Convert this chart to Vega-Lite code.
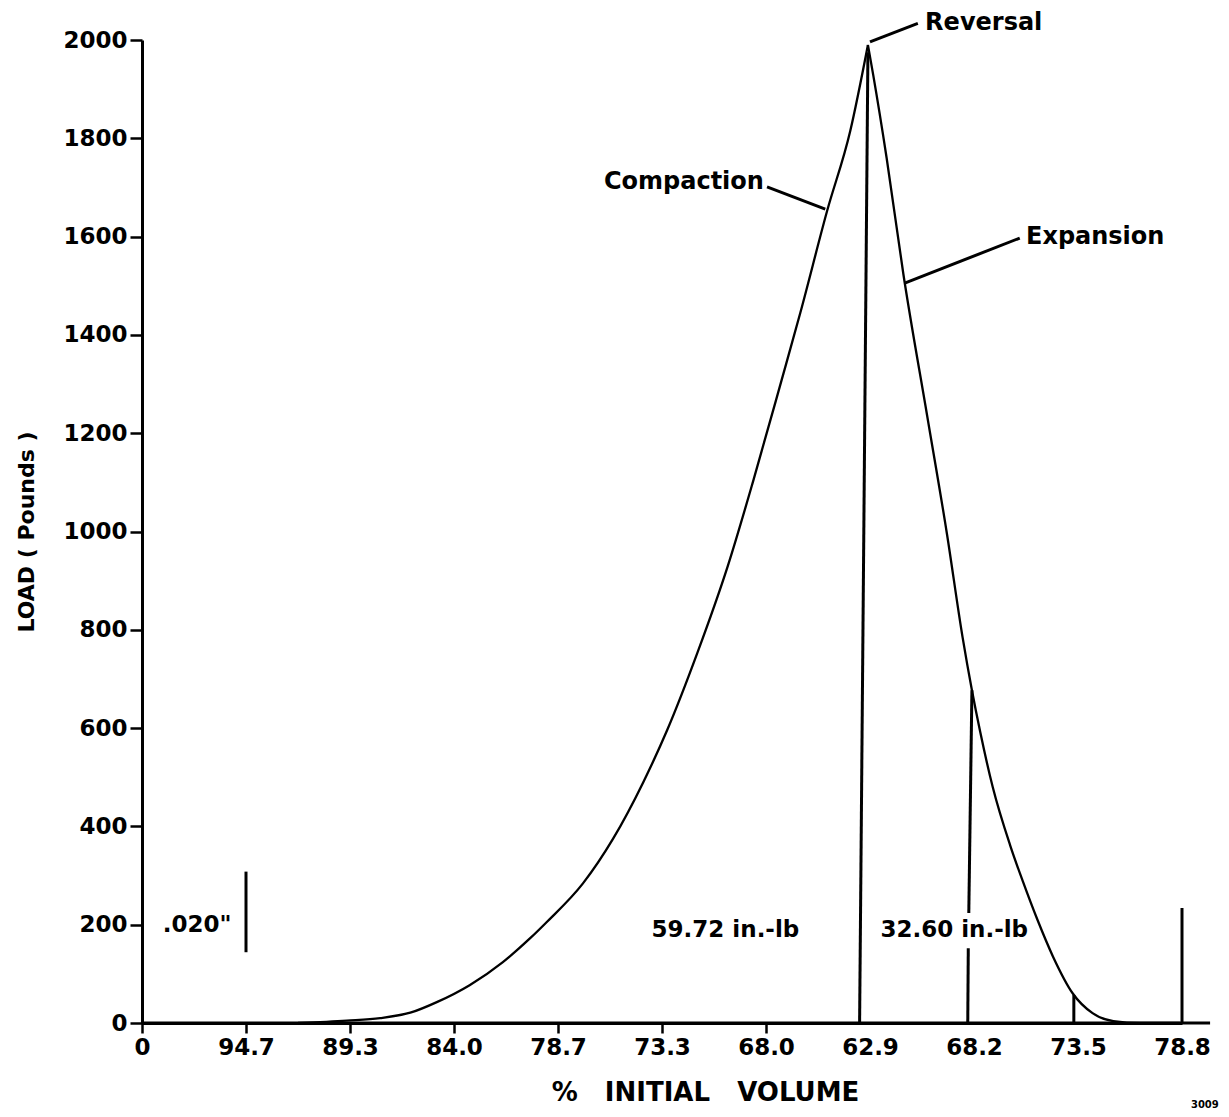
{
  "$schema": "https://vega.github.io/schema/vega-lite/v6.json",
  "width": 1040,
  "height": 983,
  "autosize": {"type": "none"},
  "padding": {"left": 142, "top": 40, "right": 47, "bottom": 94},
  "background": "white",
  "config": {"view": {"stroke": null}, "font": "DejaVu Sans"},
  "datasets": {
    "curve": [
      {"series": "Compaction", "x": 1.5, "load": 0},
      {"series": "Compaction", "x": 1.97, "load": 5},
      {"series": "Compaction", "x": 2.29, "load": 10},
      {"series": "Compaction", "x": 2.58, "load": 21},
      {"series": "Compaction", "x": 2.84, "load": 43},
      {"series": "Compaction", "x": 3.15, "load": 77},
      {"series": "Compaction", "x": 3.47, "load": 124},
      {"series": "Compaction", "x": 3.73, "load": 172},
      {"series": "Compaction", "x": 3.89, "load": 205},
      {"series": "Compaction", "x": 4.24, "load": 284},
      {"series": "Compaction", "x": 4.53, "load": 375},
      {"series": "Compaction", "x": 4.82, "load": 490},
      {"series": "Compaction", "x": 5.05, "load": 596},
      {"series": "Compaction", "x": 5.34, "load": 753},
      {"series": "Compaction", "x": 5.63, "load": 928},
      {"series": "Compaction", "x": 5.88, "load": 1105},
      {"series": "Compaction", "x": 6.15, "load": 1308},
      {"series": "Compaction", "x": 6.33, "load": 1445},
      {"series": "Compaction", "x": 6.59, "load": 1654},
      {"series": "Compaction", "x": 6.81, "load": 1815},
      {"series": "Compaction", "x": 6.98, "load": 1990},
      {"series": "Expansion", "x": 6.98, "load": 1990},
      {"series": "Expansion", "x": 7.03, "load": 1930},
      {"series": "Expansion", "x": 7.16, "load": 1760},
      {"series": "Expansion", "x": 7.32, "load": 1525},
      {"series": "Expansion", "x": 7.55, "load": 1235},
      {"series": "Expansion", "x": 7.74, "load": 995},
      {"series": "Expansion", "x": 7.89, "load": 785},
      {"series": "Expansion", "x": 7.98, "load": 677},
      {"series": "Expansion", "x": 8.06, "load": 592},
      {"series": "Expansion", "x": 8.18, "load": 480},
      {"series": "Expansion", "x": 8.35, "load": 360},
      {"series": "Expansion", "x": 8.47, "load": 288},
      {"series": "Expansion", "x": 8.61, "load": 210},
      {"series": "Expansion", "x": 8.76, "load": 135},
      {"series": "Expansion", "x": 8.95, "load": 60},
      {"series": "Expansion", "x": 9.14, "load": 20},
      {"series": "Expansion", "x": 9.34, "load": 4},
      {"series": "Expansion", "x": 9.6, "load": 0},
      {"series": "Expansion", "x": 9.98, "load": 0}
    ],
    "rules": [
      {"name": "baseline", "x": 0, "load": 0, "x2": 10.27, "load2": 0},
      {"name": "scale bar", "x": 1.0, "load": 144, "x2": 1.0, "load2": 308},
      {"name": "62.9", "x": 6.9, "load": 0, "x2": 6.98, "load2": 1975},
      {"name": "68.2 low", "x": 7.94, "load": 0, "x2": 7.945, "load2": 152},
      {"name": "68.2 high", "x": 7.95, "load": 224, "x2": 7.98, "load2": 677},
      {"name": "73.5", "x": 8.96, "load": 0, "x2": 8.96, "load2": 57},
      {"name": "78.8", "x": 10.0, "load": 0, "x2": 10.0, "load2": 234},
      {"name": "Reversal leader", "x": 7.0, "load": 1996, "x2": 7.46, "load2": 2034},
      {"name": "Compaction leader", "x": 6.01, "load": 1701, "x2": 6.57, "load2": 1656},
      {"name": "Expansion leader", "x": 7.34, "load": 1506, "x2": 8.44, "load2": 1597}
    ],
    "labels": [
      {"text": "Reversal", "x": 7.53, "load": 2034},
      {"text": "Expansion", "x": 8.5, "load": 1600},
      {"text": "Compaction", "x": 5.98, "load": 1712},
      {"text": "59.72 in.-lb", "x": 5.61, "load": 189},
      {"text": "32.60  in.-lb", "x": 7.81, "load": 189},
      {"text": ".020\"", "x": 0.53, "load": 200}
    ],
    "note": [
      {"text": "3009", "x": 10.22, "load": -167}
    ]
  },
  "encoding": {
    "x": {
      "field": "x",
      "type": "quantitative",
      "scale": {"domain": [0, 10], "nice": false, "zero": false},
      "axis": {
        "values": [0, 1, 2, 3, 4, 5, 6, 7, 8, 9, 10],
        "labelExpr": "['0','94.7','89.3','84.0','78.7','73.3','68.0','62.9','68.2','73.5','78.8'][round(datum.value)]",
        "title": "%\u00a0\u00a0\u00a0INITIAL\u00a0\u00a0\u00a0VOLUME",
        "titleFont": "DejaVu Sans",
        "titleFontSize": 26,
        "titleFontWeight": "bold",
        "titleColor": "black",
        "titlePadding": 20,
        "titleX": 563,
        "titleAlign": "center",
        "labelFont": "DejaVu Sans",
        "labelFontSize": 23,
        "labelFontWeight": "bold",
        "labelColor": "black",
        "labelPadding": 3,
        "labelFlush": false,
        "labelOverlap": false,
        "tickSize": 10,
        "tickWidth": 2.5,
        "tickColor": {"condition": {"test": "datum.value <= 6", "value": "black"}, "value": "transparent"},
        "domainColor": "black",
        "domainWidth": 3,
        "grid": false
      }
    },
    "y": {
      "field": "load",
      "type": "quantitative",
      "scale": {"domain": [0, 2000], "nice": false},
      "axis": {
        "values": [0, 200, 400, 600, 800, 1000, 1200, 1400, 1600, 1800, 2000],
        "format": "d",
        "title": "LOAD ( Pounds )",
        "titleFont": "DejaVu Sans",
        "titleFontSize": 22,
        "titleFontWeight": "bold",
        "titleColor": "black",
        "titlePadding": 24,
        "labelFont": "DejaVu Sans",
        "labelFontSize": 23,
        "labelFontWeight": "bold",
        "labelColor": "black",
        "labelPadding": 3,
        "labelFlush": false,
        "labelOverlap": false,
        "tickSize": 12,
        "tickWidth": 2.5,
        "tickColor": "black",
        "domainColor": "black",
        "domainWidth": 3,
        "grid": false
      }
    }
  },
  "layer": [
    {
      "data": {"name": "curve"},
      "mark": {"type": "line", "color": "black", "strokeWidth": 2.3, "interpolate": "monotone"},
      "encoding": {"detail": {"field": "series"}}
    },
    {
      "data": {"name": "rules"},
      "mark": {"type": "rule", "color": "black", "strokeWidth": 3},
      "encoding": {
        "x2": {"field": "x2"},
        "y2": {"field": "load2"}
      }
    },
    {
      "data": {"name": "labels"},
      "transform": [{"filter": {"field": "text", "oneOf": ["Reversal", "Expansion"]}}],
      "mark": {"type": "text", "align": "left", "baseline": "middle", "font": "DejaVu Sans", "fontSize": 24, "fontWeight": "bold", "color": "black"},
      "encoding": {"text": {"field": "text"}}
    },
    {
      "data": {"name": "labels"},
      "transform": [{"filter": {"field": "text", "oneOf": ["Compaction"]}}],
      "mark": {"type": "text", "align": "right", "baseline": "middle", "font": "DejaVu Sans", "fontSize": 24, "fontWeight": "bold", "color": "black"},
      "encoding": {"text": {"field": "text"}}
    },
    {
      "data": {"name": "labels"},
      "transform": [{"filter": {"field": "text", "oneOf": ["59.72 in.-lb", "32.60  in.-lb", ".020\""]}}],
      "mark": {"type": "text", "align": "center", "baseline": "middle", "font": "DejaVu Sans", "fontSize": 23, "fontWeight": "bold", "color": "black"},
      "encoding": {"text": {"field": "text"}}
    },
    {
      "data": {"name": "note"},
      "mark": {"type": "text", "align": "center", "baseline": "middle", "font": "DejaVu Sans", "fontSize": 10, "fontWeight": "bold", "color": "black"},
      "encoding": {"text": {"field": "text"}}
    }
  ]
}
